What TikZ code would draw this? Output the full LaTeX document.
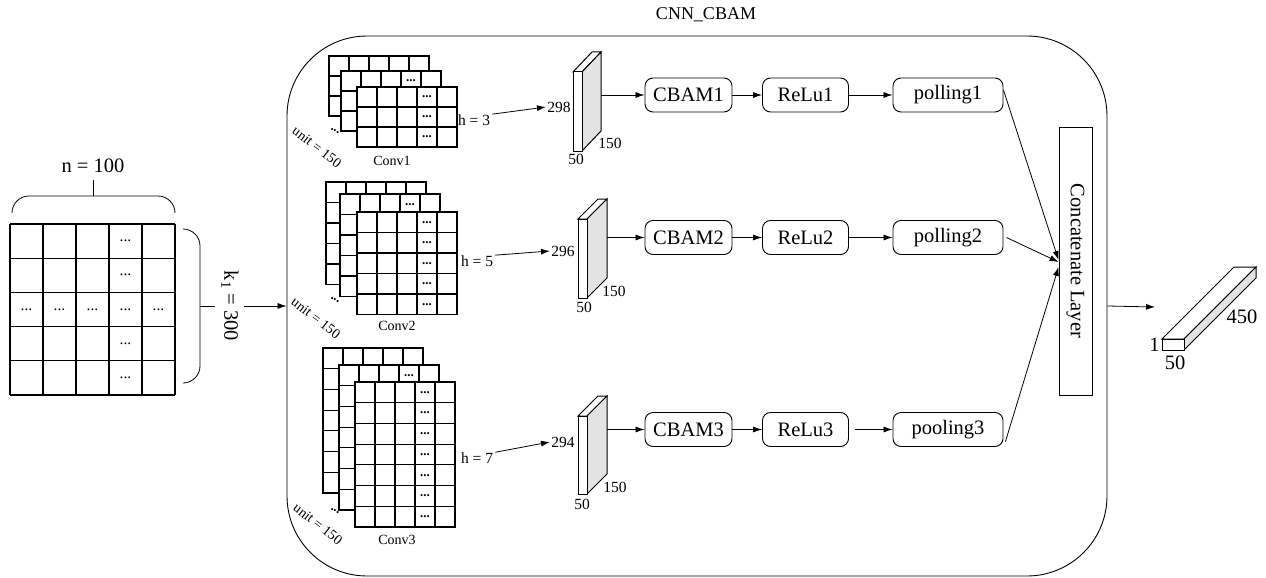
\documentclass[tikz,border=0pt]{standalone}
\usepackage{fontspec}
\setmainfont{Liberation Serif}
\usetikzlibrary{arrows.meta,calc}
\tikzset{
  bigfont/.style={font=\fontsize{20.5}{24}\selectfont},
  smallfont/.style={font=\fontsize{15.5}{18}\selectfont},
  tinyfont/.style={font=\fontsize{14}{16}\selectfont},
  opbox/.style={draw, rounded corners=8pt, minimum height=34pt, inner sep=0pt, bigfont, line width=0.9pt},
  arr/.style={-{Latex[length=9pt,width=6pt]}, line width=0.8pt},
  gridline/.style={line width=1.2pt},
  dotnode/.style={inner sep=0pt, font=\fontsize{13}{13}\selectfont\bfseries},
  slabline/.style={line width=1.0pt},
  sidefill/.style={fill=gray!22},
}
\newcommand{\gridlayer}[7]{% name x y rows cw ch dotmode
  \pgfmathsetmacro{\gw}{5*#5}\pgfmathsetmacro{\gh}{#4*#6}
  \filldraw[fill=white, gridline] (#2,#3) rectangle ++(\gw,\gh);
  \foreach \i in {1,2,3,4} {\draw[gridline] ({#2+\i*#5},#3) -- ++(0,\gh);}
  \foreach \j in {1,...,#4} {\draw[gridline] (#2,{#3+\j*#6}) -- ++(\gw,0);}
  \ifcase#7\relax
  \or \node[dotnode] (#1-d1) at ({#2+3.5*#5},{#3+0.5*#6}) {...};
  \or \foreach \j in {1,...,#4} {\node[dotnode] (#1-d\j) at ({#2+3.5*#5},{#3+(\j-0.5)*#6}) {...};}
  \fi
}
\newcommand{\slab}[6]{% x ytop w h dx dy
  \filldraw[fill=white, slabline] (#1,#2) -- ++(#5,-#6) -- ++(#3,0) -- ({#1+#3},#2) -- cycle;
  \filldraw[sidefill, slabline] ({#1+#3},#2) -- ++(#5,-#6) -- ++(0,#4) -- ({#1+#3},{#2+#4}) -- cycle;
  \filldraw[fill=white, slabline] (#1,#2) rectangle ++(#3,#4);
}
\begin{document}
\begin{tikzpicture}[x=1pt,y=-1pt, line width=0.8pt]
\useasboundingbox (0,0) rectangle (1266,578);

% ---------- input matrix ----------
\foreach \i in {0,...,5} {\draw[gridline] ({10+\i*33},224) -- ({10+\i*33},395);}
\foreach \j in {0,...,5} {\draw[gridline] (10,{224+\j*34.2}) -- (175,{224+\j*34.2});}
\foreach \j in {1,2,4,5} {\node[smallfont, inner sep=0pt] (in-c\j) at ({10+3.5*33},{224+(\j-0.5)*34.2}) {...};}
\foreach \i in {1,...,5} {\node[smallfont, inner sep=0pt] (in-r\i) at ({10+(\i-0.5)*33},{224+2.5*34.2}) {...};}
\draw[rounded corners=17pt] (12,213) -- (12,196) -- (175,196) -- (175,213);
\draw (93,196) -- (93,180);
\node[bigfont] (nlab) at (93,166) {n = 100};
\draw[rounded corners=17pt] (183,229) -- (200,229) -- (200,383) -- (183,383);
\draw (200,306) -- (215,306);
\node[bigfont, rotate=-90, inner sep=2pt] (klab) at (230,306) {k\textsubscript{1} = 300};

% ---------- main box ----------
\node[draw, rounded corners=80pt, minimum width=820pt, minimum height=540pt, line width=0.9pt] (cnn) at (697,306) {};
\node[font=\fontsize{18}{21}\selectfont] (title) at (706,15) {CNN\_CBAM};
\draw[arr, shorten <=3pt] (klab.north) -- (cnn.west);

% ---------- conv stacks ----------
\gridlayer{c1b}{329}{56}{3}{20}{20}{0}
\gridlayer{c1m}{341}{71}{3}{20}{20}{1}
\gridlayer{c1f}{357}{87}{3}{20}{20}{2}
\gridlayer{c2b}{326}{182}{5}{20}{20.5}{0}
\gridlayer{c2m}{340}{194}{5}{20}{20.5}{1}
\gridlayer{c2f}{357}{212}{5}{20}{20.5}{2}
\gridlayer{c3b}{323}{348}{7}{20}{20.7}{0}
\gridlayer{c3m}{339}{365}{7}{20}{20.7}{1}
\gridlayer{c3f}{355}{382}{7}{20}{20.7}{2}

\node[dotnode, rotate=-30] (dg1) at (335,131) {...};
\node[dotnode, rotate=-30] (dg2) at (335,300) {...};
\node[dotnode, rotate=-30] (dg3) at (335,511) {...};
\node[tinyfont, rotate=-38] (u1) at (317,147) {unit = 150};
\node[tinyfont, rotate=-38] (u2) at (316,318) {unit = 150};
\node[tinyfont, rotate=-38] (u3) at (318,524) {unit = 150};
\node[tinyfont] (cv1) at (392,161) {Conv1};
\node[tinyfont] (cv2) at (397,326) {Conv2};
\node[tinyfont] (cv3) at (397,540) {Conv3};

\node[smallfont, inner sep=1pt] (h1) at (474,120) {h = 3};
\node[smallfont, inner sep=1pt] (h2) at (477,261) {h = 5};
\node[smallfont, inner sep=1pt] (h3) at (477,458) {h = 7};

% ---------- slabs ----------
\slab{573}{72}{9}{79}{19}{20}
\slab{578}{219}{9}{79}{20}{20}
\slab{578}{416}{9}{78}{20}{20}
\node[smallfont, inner sep=1pt, anchor=east] (n1) at (572,107) {298};
\node[smallfont, inner sep=1pt, anchor=east] (n2) at (576,251) {296};
\node[smallfont, inner sep=1pt, anchor=east] (n3) at (576,442) {294};
\node[smallfont, inner sep=0pt] (w1) at (576,159) {50};
\node[smallfont, inner sep=0pt] (w2) at (584,307) {50};
\node[smallfont, inner sep=0pt] (w3) at (582,504) {50};
\node[smallfont, inner sep=0pt] (d1) at (610,143) {150};
\node[smallfont, inner sep=0pt] (d2) at (614,291) {150};
\node[smallfont, inner sep=0pt] (d3) at (615,487) {150};
\draw[arr] ($(h1.north east)+(1,1)$) -- (n1.west);
\draw[arr] ($(h2.north east)+(1,1)$) -- (n2.west);
\draw[arr] ($(h3.north east)+(1,1)$) -- (n3.west);
\coordinate (s1) at (601,95);
\coordinate (s2) at (607,237.5);
\coordinate (s3) at (607,429.5);

% ---------- operation boxes ----------
\node[opbox, minimum width=87pt] (cb1) at (688.5,95) {CBAM1};
\node[opbox, minimum width=86pt] (re1) at (805.5,95) {ReLu1};
\node[opbox, minimum width=110pt] (po1) at (948,95) {polling1};
\node[opbox, minimum width=87pt] (cb2) at (688.5,237.5) {CBAM2};
\node[opbox, minimum width=86pt] (re2) at (805.5,237.5) {ReLu2};
\node[opbox, minimum width=110pt] (po2) at (948,237.5) {polling2};
\node[opbox, minimum width=87pt] (cb3) at (688.5,429.5) {CBAM3};
\node[opbox, minimum width=86pt] (re3) at (805.5,429.5) {ReLu3};
\node[opbox, minimum width=110pt] (po3) at (948,429.5) {pooling3};
\draw[arr] (s1) -- (cb1.west);
\draw[arr] (cb1) -- (re1);
\draw[arr] (re1) -- (po1);
\draw[arr] (s2) -- (cb2.west);
\draw[arr] (cb2) -- (re2);
\draw[arr] (re2) -- (po2);
\draw[arr] (s3) -- (cb3.west);
\draw[arr] (cb3) -- (re3);
\draw[arr, shorten <=6pt] (re3) -- (po3);

% ---------- concatenate ----------
\node[draw, minimum width=33pt, minimum height=268pt, inner sep=0pt, line width=0.9pt] (cat) at (1075.5,261) {};
\node[bigfont, rotate=-90] (cattext) at (cat.center) {Concatenate Layer};
\draw[arr] ($(po1.east)+(0,-5)$) -- ($(cat.west)+(0,-1)$);
\draw[arr] ($(po2.east)+(3,0)$) -- ($(cat.west)+(0,1)$);
\draw[arr] ($(po3.east)+(2,12)$) -- ($(cat.west)+(0,6)$);

% ---------- output ----------
\coordinate (otip) at (1155,307);
\draw[arr] (cnn.east) -- (otip);
\filldraw[fill=white, slabline] (1162,339) -- (1234,267) -- (1256,267) -- (1184,339) -- cycle;
\filldraw[sidefill, slabline] (1184,339) -- (1256,267) -- (1256,278) -- (1184,350) -- cycle;
\filldraw[fill=white, slabline] (1162,339) rectangle (1184,350);
\node[bigfont, inner sep=0pt, anchor=east] (o1) at (1160,345) {1};
\node[bigfont, inner sep=0pt] (o50) at (1175,363) {50};
\node[bigfont, inner sep=0pt] (o450) at (1242,317) {450};
\end{tikzpicture}
\end{document}
